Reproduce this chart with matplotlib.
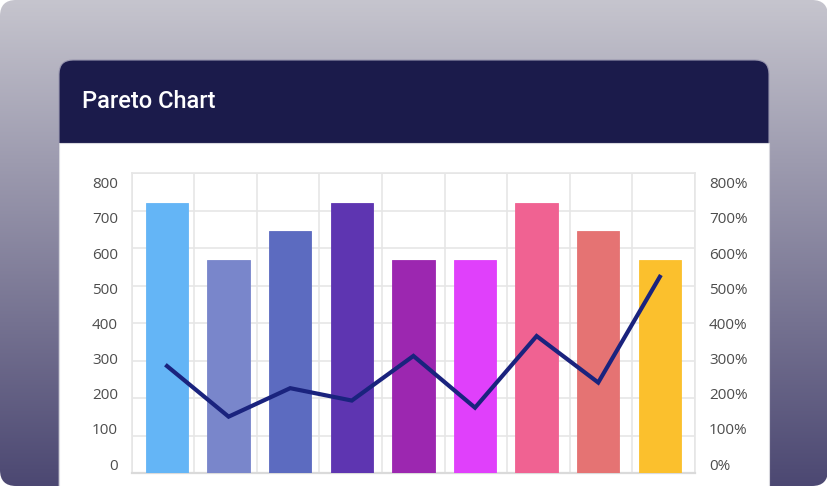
import numpy as np
import matplotlib
matplotlib.use("Agg")
import matplotlib.pyplot as plt
from matplotlib.patches import FancyBboxPatch, Rectangle

# Data
categories = ["Item 1", "Item 2", "Item 3", "Item 4", "Item 5",
              "Item 6", "Item 7", "Item 8", "Item 9"]
counts = [722, 568, 645, 722, 568, 568, 722, 645, 568]
percent = [286, 151, 227, 194, 313, 175, 366, 242, 524]
bar_colors = ["#64b5f6", "#7986cb", "#5c6bc0", "#5e35b1", "#9c27b0",
              "#e040fb", "#f06292", "#e57373", "#fbc02d"]
y_ticks = [0, 100, 200, 300, 400, 500, 600, 700, 800]

W, H = 828, 486
fig = plt.figure(figsize=(W / 100, H / 100), dpi=100)
fig.patch.set_facecolor("white")

# background with gradient + card (pixel coordinates, y up)
bg = fig.add_axes([0, 0, 1, 1])
bg.set_xlim(0, W)
bg.set_ylim(0, H)
bg.axis("off")

top = np.array([198, 197, 206]) / 255
bot = np.array([76, 72, 114]) / 255
t = np.linspace(0, 1, 256)[:, None]
grad = (top * (1 - t) + bot * t)[:, None, :]
grad = np.repeat(grad, 2, axis=1)
im = bg.imshow(grad, extent=[0, W, 0, H], aspect="auto", zorder=0)
clip = FancyBboxPatch((0, 0), W, H, boxstyle="round,pad=0,rounding_size=16",
                      transform=bg.transData, facecolor="none", edgecolor="none")
bg.add_patch(clip)
im.set_clip_path(clip)

card_x0, card_x1 = 59, 769
header_top, header_bot = H - 60, H - 143
bg.add_patch(FancyBboxPatch((card_x0, -40), card_x1 - card_x0, header_top + 40,
                            boxstyle="round,pad=0,rounding_size=14",
                            facecolor="#1b1b4b", edgecolor="#9a98b0", linewidth=0.8,
                            zorder=1))
bg.add_patch(Rectangle((card_x0, -40), card_x1 - card_x0, header_bot + 40,
                       facecolor="white", edgecolor="#d8d8de", linewidth=0.8, zorder=2))
bg.text(82, H - 102, "Pareto Chart", color="white", fontsize=17,
        family="Roboto", fontweight="medium", va="center", ha="left", zorder=3)

# main chart
ax_left, ax_right = 131.7, 695
ax_bottom, ax_top = H - 473.3, H - 173.3
ax = fig.add_axes([ax_left / W, ax_bottom / H, (ax_right - ax_left) / W,
                   (ax_top - ax_bottom) / H])
ax.set_facecolor("none")

x = np.arange(len(categories))
ax.bar(x, counts, width=0.69, color=bar_colors, edgecolor=bar_colors,
       linewidth=0.6, zorder=3)
ax.set_xlim(-0.573, 8.571)
ax.set_ylim(0, 800)
ax.set_yticks(y_ticks)
ax.set_yticklabels([])
ax.set_xticks(x)
ax.set_xticklabels(categories)
ax.set_xticks(np.linspace(-0.573, 8.571, 10), minor=True)
ax.grid(axis="y", which="major", color="#e6e6e6", linewidth=1.2, zorder=0)
ax.grid(axis="x", which="minor", color="#e6e6e6", linewidth=1.2, zorder=0)
ax.tick_params(axis="x", which="both", length=0, pad=10, labelsize=10,
               labelcolor="#a5a5a5")
ax.tick_params(axis="y", length=0)
for lab in ax.get_xticklabels():
    lab.set_family("Open Sans")
for side in ["left", "top", "right"]:
    ax.spines[side].set_color("#e6e6e6")
    ax.spines[side].set_linewidth(1.2)
ax.spines["bottom"].set_color("#dadada")
ax.spines["bottom"].set_linewidth(1.6)

ax2 = ax.twinx()
ax2.plot(x, percent, color="#1a237e", linewidth=3.0, solid_joinstyle="miter",
         zorder=5)
ax2.set_ylim(0, 800)
ax2.set_yticks([])
for side in ax2.spines:
    ax2.spines[side].set_visible(False)

# tick label scale: labels sit on a slightly narrower band than the grid
lab_top, lab_bot = H - 182.7, H - 464
lab_ax = fig.add_axes([ax_left / W, lab_bot / H, (ax_right - ax_left) / W,
                       (lab_top - lab_bot) / H])
lab_ax.set_facecolor("none")
lab_ax.set_ylim(0, 800)
lab_ax.set_xticks([])
lab_ax.set_yticks(y_ticks)
lab_ax.tick_params(axis="y", length=0, pad=10, labelsize=11, labelcolor="#4d4d4d")
for side in lab_ax.spines:
    lab_ax.spines[side].set_visible(False)
for lab in lab_ax.get_yticklabels():
    lab.set_family("Open Sans")

lab_ax2 = lab_ax.twinx()
lab_ax2.set_ylim(0, 800)
lab_ax2.set_yticks(y_ticks)
lab_ax2.set_yticklabels([f"{v}%" for v in y_ticks])
lab_ax2.tick_params(axis="y", length=0, pad=10, labelsize=11, labelcolor="#4d4d4d")
for side in lab_ax2.spines:
    lab_ax2.spines[side].set_visible(False)
for lab in lab_ax2.get_yticklabels():
    lab.set_family("Open Sans")

fig.savefig("out.png", dpi=100)
